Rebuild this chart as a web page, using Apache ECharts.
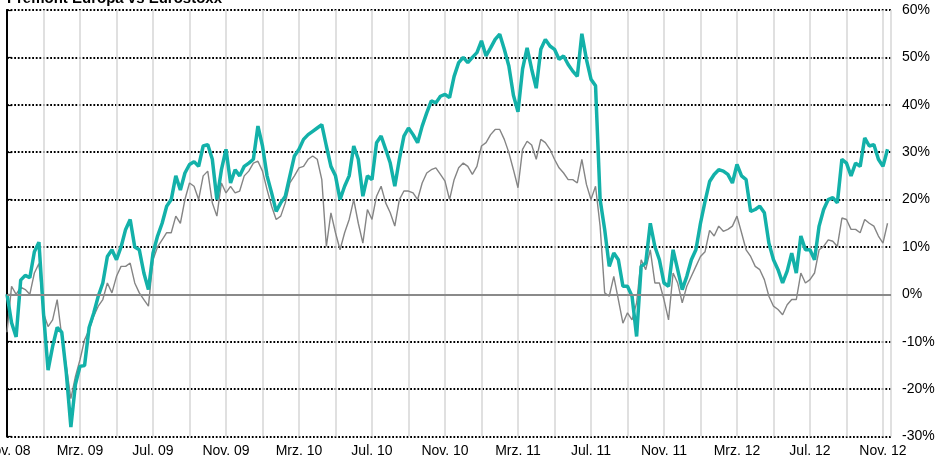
<!DOCTYPE html>
<html>
<head>
<meta charset="utf-8">
<script src="https://cdn.jsdelivr.net/npm/echarts@6/dist/echarts.min.js"></script>
<style>html,body{margin:0;padding:0;background:#fff}#c{width:938px;height:461px}</style>
</head>
<body>
<div id="c"></div>
<script>
// Weekly samples (step = 1/4 month), starting Nov. 2008
const title = 'Premont Europa vs Eurostoxx';
const tickLabels = ['Nov. 08','Mrz. 09','Jul. 09','Nov. 09','Mrz. 10','Jul. 10','Nov. 10','Mrz. 11','Jul. 11','Nov. 11','Mrz. 12','Jul. 12','Nov. 12'];
const fundValues = [
 0,-6,-9,3,4,3.5,9,11,-4,-16,-11,-7,-8,-16.6,-28,-19,-15.2,-15,-7,-4,
 -0.4,2.4,8,9.4,7.3,10,13.7,15.8,10,9.4,4.5,1,8.7,12.3,15,18.6,20,25,22,25.6,
 27.4,28,27,31.3,31.6,28.5,20,26.3,30.6,23.5,26.3,25,27,27.7,28.5,35.5,31.3,25,21.4,17.5,
 19.3,20.7,25,29.2,30.6,32.7,33.7,34.4,35.1,35.8,31.3,27,25,20,22.8,25,31.3,28.5,20.7,25,
 24.2,32,33.4,30.6,27.7,22.8,28.5,33.4,35.1,33.7,32,35.5,38.3,40.8,40.4,41.8,42.2,41.5,46,48.9,
 50,48.9,50,51,53.5,50.3,52,53.8,54.9,51.7,48.2,42,38.5,47.5,52,47.5,43.5,51.7,53.8,52.4,
 51.7,49.6,50.3,48.5,47.1,46,55,49.6,45.4,44,20,13.7,5.9,8.7,7.3,1.7,1.7,-0.4,-8.9,5.9,
 6.6,15,10.1,7.3,2.4,1.7,9.4,5.2,1,3.8,7.3,9.4,15,19.6,23.8,25.3,26.3,26,25.3,23.5,
 27.4,25,24.2,17.5,17.9,18.6,17.2,10.8,7.3,5.2,2.4,4.9,8.7,4.5,12.3,9.4,9.4,7.3,14.4,17.9,
 20,20.4,19.3,28.5,27.7,25,27.7,27,33,31.3,31.6,28.5,27,30.6
];
const indexValues = [
 -8,1.7,0,1.5,1,0,4.5,6.5,-4,-6.8,-5.4,-1.1,-8.9,-15.2,-22,-17.3,-13.8,-9.6,-7.5,-4.6,
 -2.5,-1.1,2.4,0.3,3.8,5.9,5.9,6.6,2.4,0.3,-1.1,-2.5,7.3,10,11.5,13,13,16.5,15,20,
 23.5,22.8,20,25,26,19.3,16.5,23.5,21.4,22.8,21.4,21.8,25,26,27.7,28.1,26,22.1,18.6,15.8,
 16.5,19.3,23.5,25,26.7,27,28.5,29.2,28.5,24.2,10.1,17.2,13,9.4,13,15.8,20,15,10.8,17.9,
 15.8,20.7,22.8,19.3,17.2,14.4,20,21.8,21.8,21.4,20,23.5,25.6,26.3,26.7,25.3,23.9,20,24.2,26.7,
 27.7,27,25.3,27,31.3,32,33.7,34.8,34.8,32.7,29.9,26.3,22.5,30.6,32.3,31.5,28.5,32.7,32,30.6,
 28.5,26.7,25.6,24.2,24.2,23.5,28.5,23.2,20,22.8,14.4,0.3,-0.4,3.8,-1.1,-6.1,-3.9,-5.4,-1.8,7.3,
 5.2,9.4,2.4,2.4,-1.1,-5.4,4.5,2.4,-1.8,1.7,3.8,5.9,8,9,13.5,12.3,14.4,13.3,13.7,14.4,
 16.5,13,9.4,8,5.9,5.2,3.1,-0.4,-2.5,-3.2,-4.3,-2.2,-1.1,-1.1,4.5,2.4,3.1,4.5,9.4,10.1,
 11.5,11.2,10.1,16.1,15.8,13.7,13.7,13,15.8,15,14.4,12.3,10.8,15
];
const STEP = 0.25;
const toPairs = arr => arr.map((v, i) => [i * STEP, v]);

const chart = echarts.init(document.getElementById('c'), null, {renderer: 'canvas'});
const font = 'Liberation Sans, Arial, sans-serif';
chart.setOption({
  animation: false,
  backgroundColor: '#ffffff',
  title: {
    text: title, left: 2, top: -14,
    textStyle: {fontFamily: font, fontSize: 15, fontWeight: 'bold', color: '#000'}
  },
  grid: {left: 7, right: 47, top: 10, bottom: 24.5, containLabel: false, outerBoundsMode: 'none'},
  xAxis: {
    type: 'value', min: 0, max: 48.44, interval: 2,
    axisLine: {show: false}, axisTick: {show: false},
    axisLabel: {
      color: '#000', fontFamily: font, fontSize: 14, margin: 8,
      showMinLabel: true, showMaxLabel: false, hideOverlap: false,
      formatter: v => (Math.abs(v % 4) < 1e-6 ? (tickLabels[Math.round(v / 4)] || '') : '')
    },
    splitLine: {show: true, lineStyle: {color: '#d6d6d6', width: 1.5}}
  },
  yAxis: [{
    type: 'value', position: 'right', min: -30, max: 60, interval: 10,
    axisLine: {show: true, lineStyle: {color: '#000', width: 1.8}},
    axisTick: {show: true, inside: false, length: 5, lineStyle: {color: '#000', width: 1.2}},
    axisLabel: {color: '#000', fontFamily: font, fontSize: 14, margin: 11, formatter: v => v + '%'},
    splitLine: {show: true, lineStyle: {color: '#000', width: 1.8, type: [1.8, 1.8]}}
  }, {
    type: 'value', position: 'left', min: -30, max: 60, interval: 10,
    axisLine: {show: true, onZero: false, lineStyle: {color: '#000', width: 1.8}},
    axisTick: {show: false}, axisLabel: {show: false}, splitLine: {show: false}
  }],
  series: [{
    name: 'Eurostoxx', type: 'line', data: toPairs(indexValues),
    showSymbol: false, symbol: 'none',
    lineStyle: {color: '#858585', width: 1.4},
    z: 3,
    markLine: {
      silent: true, symbol: 'none', label: {show: false},
      lineStyle: {color: '#8a8a8a', width: 2, type: 'solid'},
      data: [{yAxis: 0}]
    }
  }, {
    name: 'Premont Europa', type: 'line', data: toPairs(fundValues),
    showSymbol: false, symbol: 'none',
    lineStyle: {color: '#13b1a9', width: 3.5},
    z: 4
  }]
});
</script>
</body>
</html>
